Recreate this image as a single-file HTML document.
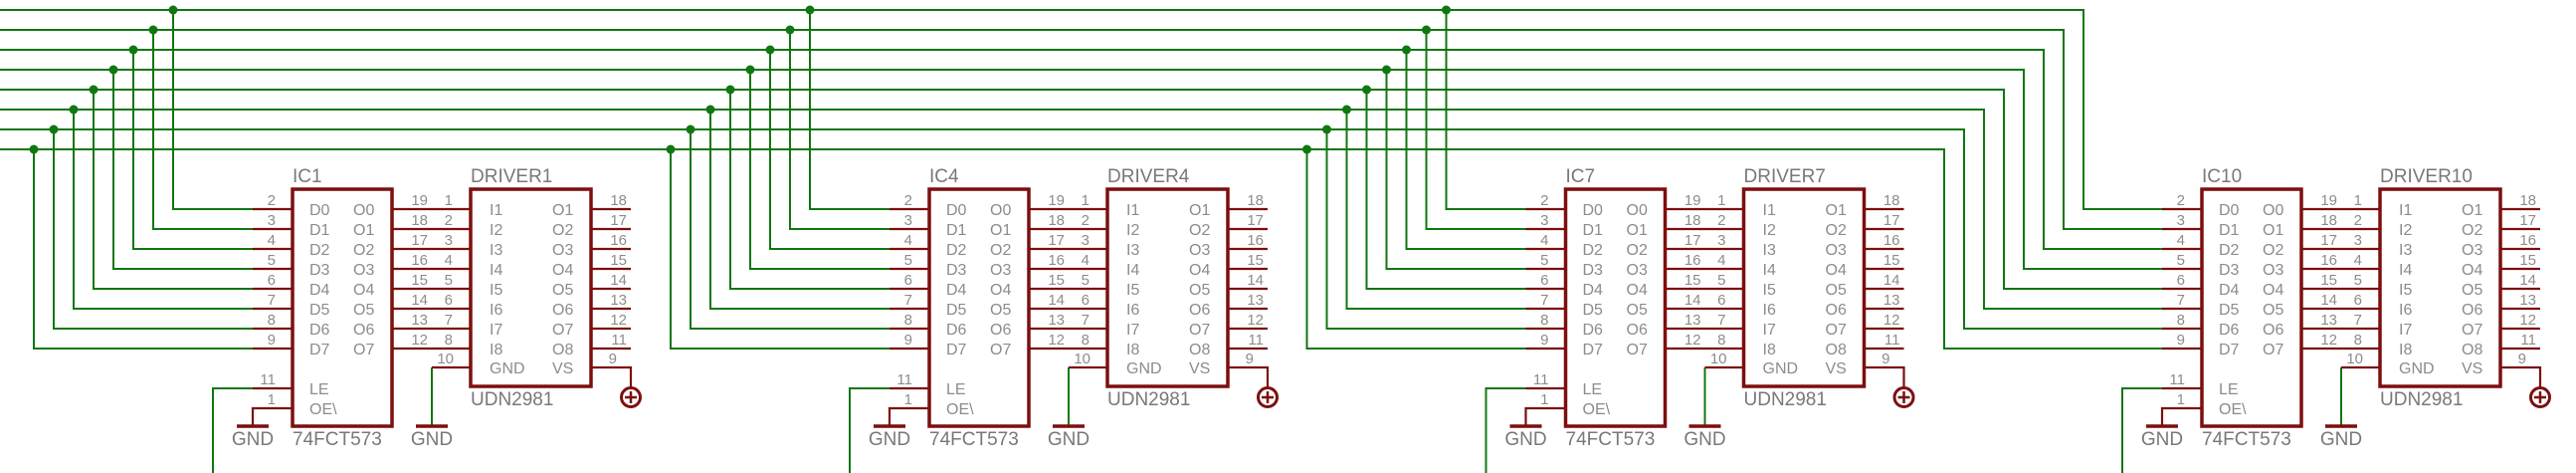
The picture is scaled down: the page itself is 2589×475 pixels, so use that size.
<!DOCTYPE html>
<html><head><meta charset="utf-8"><style>
html,body{margin:0;padding:0;background:#fff;}
svg{display:block}
.g{stroke:#117711;stroke-width:2;fill:none}
.r{stroke:#7d0f0f;stroke-width:2.2;fill:none}
.b{stroke:#7d0f0f;stroke-width:3.5;fill:none}
.d{fill:#117711}
.pl{font-family:"Liberation Sans",sans-serif;font-size:16px;fill:#8c8c8c}
.pn{font-family:"Liberation Sans",sans-serif;font-size:15px;fill:#8c8c8c;text-anchor:end}
.nm{font-family:"Liberation Sans",sans-serif;font-size:19px;fill:#787878}
</style></head><body>
<svg width="2589" height="475" viewBox="0 0 2589 475" xmlns="http://www.w3.org/2000/svg">
<!-- bus lines -->
<g class="g">
<path d="M0 10H2094V210H2173"/><path d="M0 30H2074V230H2173"/><path d="M0 50H2054V250H2173"/><path d="M0 70H2034V270H2173"/>
<path d="M0 90H2014V290H2173"/><path d="M0 110H1994V310H2173"/><path d="M0 130H1974V330H2173"/><path d="M0 150H1954V350H2173"/>
</g>
<!-- group template copies -->
<g id="grp1">
<g class="g">
<path d="M174 10V210H254M154 30V230H254M134 50V250H254M114 70V270H254M94 90V290H254M74 110V310H254M54 130V330H254M34 150V350H254"/>
<path d="M214 475V390H254M434 369V428"/>
</g>
<g class="d"><circle cx="174" cy="10" r="4.5"/><circle cx="154" cy="30" r="4.5"/><circle cx="134" cy="50" r="4.5"/><circle cx="114" cy="70" r="4.5"/><circle cx="94" cy="90" r="4.5"/><circle cx="74" cy="110" r="4.5"/><circle cx="54" cy="130" r="4.5"/><circle cx="34" cy="150" r="4.5"/></g>
</g>
<g transform="translate(640,0)">
<g class="g">
<path d="M174 10V210H254M154 30V230H254M134 50V250H254M114 70V270H254M94 90V290H254M74 110V310H254M54 130V330H254M34 150V350H254"/>
<path d="M214 475V390H254M434 369V428"/>
</g>
<g class="d"><circle cx="174" cy="10" r="4.5"/><circle cx="154" cy="30" r="4.5"/><circle cx="134" cy="50" r="4.5"/><circle cx="114" cy="70" r="4.5"/><circle cx="94" cy="90" r="4.5"/><circle cx="74" cy="110" r="4.5"/><circle cx="54" cy="130" r="4.5"/><circle cx="34" cy="150" r="4.5"/></g>
</g>
<g transform="translate(1279.5,0)">
<g class="g">
<path d="M174 10V210H254M154 30V230H254M134 50V250H254M114 70V270H254M94 90V290H254M74 110V310H254M54 130V330H254M34 150V350H254"/>
<path d="M214 475V390H254M434 369V428"/>
</g>
<g class="d"><circle cx="174" cy="10" r="4.5"/><circle cx="154" cy="30" r="4.5"/><circle cx="134" cy="50" r="4.5"/><circle cx="114" cy="70" r="4.5"/><circle cx="94" cy="90" r="4.5"/><circle cx="74" cy="110" r="4.5"/><circle cx="54" cy="130" r="4.5"/><circle cx="34" cy="150" r="4.5"/></g>
</g>
<g transform="translate(1919,0)" class="g"><path d="M214 475V390H254M434 369V428"/></g>

<!-- Components: 4 copies -->
<g transform="translate(0,0)">
<path class="r" d="M254 210H294M254 230H294M254 250H294M254 270H294M254 290H294M254 310H294M254 330H294M254 350H294M254 390H294M294 410H254V428M394 210H473M394 230H473M394 250H473M394 270H473M394 290H473M394 310H473M394 330H473M394 350H473M594 210H634M594 230H634M594 250H634M594 270H634M594 290H634M594 310H634M594 330H634M594 350H634M473 369H434M594 369H634V389"/>
<path class="b" d="M238 428H270M418 428H450"/>
<rect class="b" x="294" y="190" width="100" height="238"/><rect class="b" x="473" y="190" width="121" height="198"/>
<circle class="b" cx="634" cy="399" r="9.5" style="stroke-width:3"/><path class="b" style="stroke-width:2.5" d="M628 399H640M634 393V405"/>
<g class="pl"><text x="311" y="216">D0</text><text x="311" y="236">D1</text><text x="311" y="256">D2</text><text x="311" y="276">D3</text><text x="311" y="296">D4</text><text x="311" y="316">D5</text><text x="311" y="336">D6</text><text x="311" y="356">D7</text><text x="311" y="396">LE</text><text x="311" y="416">OE\</text>
<text x="355" y="216">O0</text><text x="355" y="236">O1</text><text x="355" y="256">O2</text><text x="355" y="276">O3</text><text x="355" y="296">O4</text><text x="355" y="316">O5</text><text x="355" y="336">O6</text><text x="355" y="356">O7</text>
<text x="492" y="216">I1</text><text x="492" y="236">I2</text><text x="492" y="256">I3</text><text x="492" y="276">I4</text><text x="492" y="296">I5</text><text x="492" y="316">I6</text><text x="492" y="336">I7</text><text x="492" y="356">I8</text><text x="492" y="375">GND</text>
<text x="555" y="216">O1</text><text x="555" y="236">O2</text><text x="555" y="256">O3</text><text x="555" y="276">O4</text><text x="555" y="296">O5</text><text x="555" y="316">O6</text><text x="555" y="336">O7</text><text x="555" y="356">O8</text><text x="555" y="375">VS</text></g>
<g class="pn"><text x="277" y="206">2</text><text x="277" y="226">3</text><text x="277" y="246">4</text><text x="277" y="266">5</text><text x="277" y="286">6</text><text x="277" y="306">7</text><text x="277" y="326">8</text><text x="277" y="346">9</text><text x="277" y="386">11</text><text x="277" y="406">1</text>
<text x="430" y="206">19</text><text x="430" y="226">18</text><text x="430" y="246">17</text><text x="430" y="266">16</text><text x="430" y="286">15</text><text x="430" y="306">14</text><text x="430" y="326">13</text><text x="430" y="346">12</text>
<text x="455" y="206">1</text><text x="455" y="226">2</text><text x="455" y="246">3</text><text x="455" y="266">4</text><text x="455" y="286">5</text><text x="455" y="306">6</text><text x="455" y="326">7</text><text x="455" y="346">8</text><text x="456" y="365">10</text>
<text x="630" y="206">18</text><text x="630" y="226">17</text><text x="630" y="246">16</text><text x="630" y="266">15</text><text x="630" y="286">14</text><text x="630" y="306">13</text><text x="630" y="326">12</text><text x="630" y="346">11</text><text x="620" y="365">9</text></g>
<g class="nm"><text x="294" y="183">IC1</text><text x="473" y="183">DRIVER1</text><text x="294" y="447">74FCT573</text><text x="473" y="407">UDN2981</text><text x="254" y="447" text-anchor="middle">GND</text><text x="434" y="447" text-anchor="middle">GND</text></g>
</g>

<g transform="translate(640,0)">
<path class="r" d="M254 210H294M254 230H294M254 250H294M254 270H294M254 290H294M254 310H294M254 330H294M254 350H294M254 390H294M294 410H254V428M394 210H473M394 230H473M394 250H473M394 270H473M394 290H473M394 310H473M394 330H473M394 350H473M594 210H634M594 230H634M594 250H634M594 270H634M594 290H634M594 310H634M594 330H634M594 350H634M473 369H434M594 369H634V389"/>
<path class="b" d="M238 428H270M418 428H450"/>
<rect class="b" x="294" y="190" width="100" height="238"/><rect class="b" x="473" y="190" width="121" height="198"/>
<circle class="b" cx="634" cy="399" r="9.5" style="stroke-width:3"/><path class="b" style="stroke-width:2.5" d="M628 399H640M634 393V405"/>
<g class="pl"><text x="311" y="216">D0</text><text x="311" y="236">D1</text><text x="311" y="256">D2</text><text x="311" y="276">D3</text><text x="311" y="296">D4</text><text x="311" y="316">D5</text><text x="311" y="336">D6</text><text x="311" y="356">D7</text><text x="311" y="396">LE</text><text x="311" y="416">OE\</text>
<text x="355" y="216">O0</text><text x="355" y="236">O1</text><text x="355" y="256">O2</text><text x="355" y="276">O3</text><text x="355" y="296">O4</text><text x="355" y="316">O5</text><text x="355" y="336">O6</text><text x="355" y="356">O7</text>
<text x="492" y="216">I1</text><text x="492" y="236">I2</text><text x="492" y="256">I3</text><text x="492" y="276">I4</text><text x="492" y="296">I5</text><text x="492" y="316">I6</text><text x="492" y="336">I7</text><text x="492" y="356">I8</text><text x="492" y="375">GND</text>
<text x="555" y="216">O1</text><text x="555" y="236">O2</text><text x="555" y="256">O3</text><text x="555" y="276">O4</text><text x="555" y="296">O5</text><text x="555" y="316">O6</text><text x="555" y="336">O7</text><text x="555" y="356">O8</text><text x="555" y="375">VS</text></g>
<g class="pn"><text x="277" y="206">2</text><text x="277" y="226">3</text><text x="277" y="246">4</text><text x="277" y="266">5</text><text x="277" y="286">6</text><text x="277" y="306">7</text><text x="277" y="326">8</text><text x="277" y="346">9</text><text x="277" y="386">11</text><text x="277" y="406">1</text>
<text x="430" y="206">19</text><text x="430" y="226">18</text><text x="430" y="246">17</text><text x="430" y="266">16</text><text x="430" y="286">15</text><text x="430" y="306">14</text><text x="430" y="326">13</text><text x="430" y="346">12</text>
<text x="455" y="206">1</text><text x="455" y="226">2</text><text x="455" y="246">3</text><text x="455" y="266">4</text><text x="455" y="286">5</text><text x="455" y="306">6</text><text x="455" y="326">7</text><text x="455" y="346">8</text><text x="456" y="365">10</text>
<text x="630" y="206">18</text><text x="630" y="226">17</text><text x="630" y="246">16</text><text x="630" y="266">15</text><text x="630" y="286">14</text><text x="630" y="306">13</text><text x="630" y="326">12</text><text x="630" y="346">11</text><text x="620" y="365">9</text></g>
<g class="nm"><text x="294" y="183">IC4</text><text x="473" y="183">DRIVER4</text><text x="294" y="447">74FCT573</text><text x="473" y="407">UDN2981</text><text x="254" y="447" text-anchor="middle">GND</text><text x="434" y="447" text-anchor="middle">GND</text></g>
</g>

<g transform="translate(1279.5,0)">
<path class="r" d="M254 210H294M254 230H294M254 250H294M254 270H294M254 290H294M254 310H294M254 330H294M254 350H294M254 390H294M294 410H254V428M394 210H473M394 230H473M394 250H473M394 270H473M394 290H473M394 310H473M394 330H473M394 350H473M594 210H634M594 230H634M594 250H634M594 270H634M594 290H634M594 310H634M594 330H634M594 350H634M473 369H434M594 369H634V389"/>
<path class="b" d="M238 428H270M418 428H450"/>
<rect class="b" x="294" y="190" width="100" height="238"/><rect class="b" x="473" y="190" width="121" height="198"/>
<circle class="b" cx="634" cy="399" r="9.5" style="stroke-width:3"/><path class="b" style="stroke-width:2.5" d="M628 399H640M634 393V405"/>
<g class="pl"><text x="311" y="216">D0</text><text x="311" y="236">D1</text><text x="311" y="256">D2</text><text x="311" y="276">D3</text><text x="311" y="296">D4</text><text x="311" y="316">D5</text><text x="311" y="336">D6</text><text x="311" y="356">D7</text><text x="311" y="396">LE</text><text x="311" y="416">OE\</text>
<text x="355" y="216">O0</text><text x="355" y="236">O1</text><text x="355" y="256">O2</text><text x="355" y="276">O3</text><text x="355" y="296">O4</text><text x="355" y="316">O5</text><text x="355" y="336">O6</text><text x="355" y="356">O7</text>
<text x="492" y="216">I1</text><text x="492" y="236">I2</text><text x="492" y="256">I3</text><text x="492" y="276">I4</text><text x="492" y="296">I5</text><text x="492" y="316">I6</text><text x="492" y="336">I7</text><text x="492" y="356">I8</text><text x="492" y="375">GND</text>
<text x="555" y="216">O1</text><text x="555" y="236">O2</text><text x="555" y="256">O3</text><text x="555" y="276">O4</text><text x="555" y="296">O5</text><text x="555" y="316">O6</text><text x="555" y="336">O7</text><text x="555" y="356">O8</text><text x="555" y="375">VS</text></g>
<g class="pn"><text x="277" y="206">2</text><text x="277" y="226">3</text><text x="277" y="246">4</text><text x="277" y="266">5</text><text x="277" y="286">6</text><text x="277" y="306">7</text><text x="277" y="326">8</text><text x="277" y="346">9</text><text x="277" y="386">11</text><text x="277" y="406">1</text>
<text x="430" y="206">19</text><text x="430" y="226">18</text><text x="430" y="246">17</text><text x="430" y="266">16</text><text x="430" y="286">15</text><text x="430" y="306">14</text><text x="430" y="326">13</text><text x="430" y="346">12</text>
<text x="455" y="206">1</text><text x="455" y="226">2</text><text x="455" y="246">3</text><text x="455" y="266">4</text><text x="455" y="286">5</text><text x="455" y="306">6</text><text x="455" y="326">7</text><text x="455" y="346">8</text><text x="456" y="365">10</text>
<text x="630" y="206">18</text><text x="630" y="226">17</text><text x="630" y="246">16</text><text x="630" y="266">15</text><text x="630" y="286">14</text><text x="630" y="306">13</text><text x="630" y="326">12</text><text x="630" y="346">11</text><text x="620" y="365">9</text></g>
<g class="nm"><text x="294" y="183">IC7</text><text x="473" y="183">DRIVER7</text><text x="294" y="447">74FCT573</text><text x="473" y="407">UDN2981</text><text x="254" y="447" text-anchor="middle">GND</text><text x="434" y="447" text-anchor="middle">GND</text></g>
</g>

<g transform="translate(1919,0)">
<path class="r" d="M254 210H294M254 230H294M254 250H294M254 270H294M254 290H294M254 310H294M254 330H294M254 350H294M254 390H294M294 410H254V428M394 210H473M394 230H473M394 250H473M394 270H473M394 290H473M394 310H473M394 330H473M394 350H473M594 210H634M594 230H634M594 250H634M594 270H634M594 290H634M594 310H634M594 330H634M594 350H634M473 369H434M594 369H634V389"/>
<path class="b" d="M238 428H270M418 428H450"/>
<rect class="b" x="294" y="190" width="100" height="238"/><rect class="b" x="473" y="190" width="121" height="198"/>
<circle class="b" cx="634" cy="399" r="9.5" style="stroke-width:3"/><path class="b" style="stroke-width:2.5" d="M628 399H640M634 393V405"/>
<g class="pl"><text x="311" y="216">D0</text><text x="311" y="236">D1</text><text x="311" y="256">D2</text><text x="311" y="276">D3</text><text x="311" y="296">D4</text><text x="311" y="316">D5</text><text x="311" y="336">D6</text><text x="311" y="356">D7</text><text x="311" y="396">LE</text><text x="311" y="416">OE\</text>
<text x="355" y="216">O0</text><text x="355" y="236">O1</text><text x="355" y="256">O2</text><text x="355" y="276">O3</text><text x="355" y="296">O4</text><text x="355" y="316">O5</text><text x="355" y="336">O6</text><text x="355" y="356">O7</text>
<text x="492" y="216">I1</text><text x="492" y="236">I2</text><text x="492" y="256">I3</text><text x="492" y="276">I4</text><text x="492" y="296">I5</text><text x="492" y="316">I6</text><text x="492" y="336">I7</text><text x="492" y="356">I8</text><text x="492" y="375">GND</text>
<text x="555" y="216">O1</text><text x="555" y="236">O2</text><text x="555" y="256">O3</text><text x="555" y="276">O4</text><text x="555" y="296">O5</text><text x="555" y="316">O6</text><text x="555" y="336">O7</text><text x="555" y="356">O8</text><text x="555" y="375">VS</text></g>
<g class="pn"><text x="277" y="206">2</text><text x="277" y="226">3</text><text x="277" y="246">4</text><text x="277" y="266">5</text><text x="277" y="286">6</text><text x="277" y="306">7</text><text x="277" y="326">8</text><text x="277" y="346">9</text><text x="277" y="386">11</text><text x="277" y="406">1</text>
<text x="430" y="206">19</text><text x="430" y="226">18</text><text x="430" y="246">17</text><text x="430" y="266">16</text><text x="430" y="286">15</text><text x="430" y="306">14</text><text x="430" y="326">13</text><text x="430" y="346">12</text>
<text x="455" y="206">1</text><text x="455" y="226">2</text><text x="455" y="246">3</text><text x="455" y="266">4</text><text x="455" y="286">5</text><text x="455" y="306">6</text><text x="455" y="326">7</text><text x="455" y="346">8</text><text x="456" y="365">10</text>
<text x="630" y="206">18</text><text x="630" y="226">17</text><text x="630" y="246">16</text><text x="630" y="266">15</text><text x="630" y="286">14</text><text x="630" y="306">13</text><text x="630" y="326">12</text><text x="630" y="346">11</text><text x="620" y="365">9</text></g>
<g class="nm"><text x="294" y="183">IC10</text><text x="473" y="183">DRIVER10</text><text x="294" y="447">74FCT573</text><text x="473" y="407">UDN2981</text><text x="254" y="447" text-anchor="middle">GND</text><text x="434" y="447" text-anchor="middle">GND</text></g>
</g>
</svg>
</body></html>
